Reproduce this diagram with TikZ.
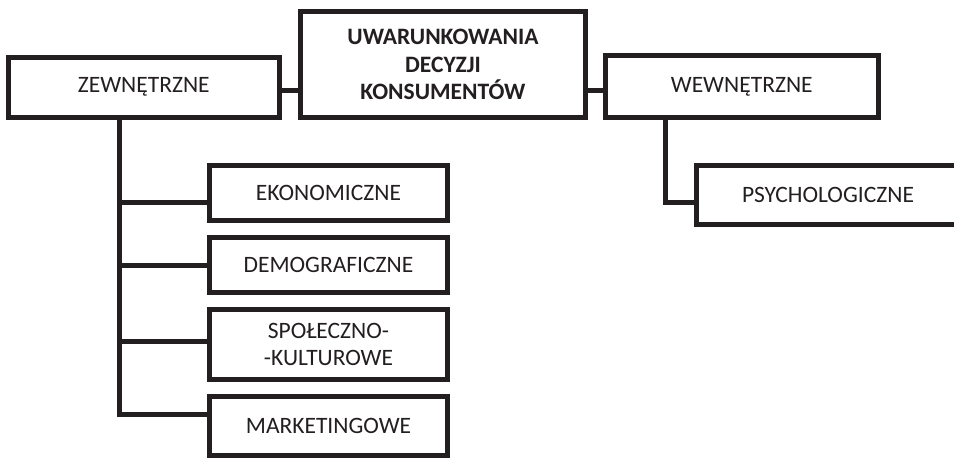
\documentclass[tikz,border=0pt]{standalone}
\usepackage{fontspec}
\setmainfont{Carlito}
\usetikzlibrary{calc}
\definecolor{ink}{HTML}{231F20}
\begin{document}
\begin{tikzpicture}[x=1pt,y=-1pt,
  box/.style={draw=ink,line width=5pt,fill=white,text=ink,inner sep=0pt,
    align=center,font=\fontsize{23.5}{27.5}\selectfont},
  topbox/.style={box,font=\fontsize{23.5}{27.5}\selectfont\bfseries},
  link/.style={draw=ink,line width=5pt,line join=miter}]
\useasboundingbox (0,0) rectangle (954,459);
\clip (0,0) rectangle (954,459);

% main node and the two groups
\node[topbox,minimum width=285pt,minimum height=106pt] (main) at (443,64.5)
  {UWARUNKOWANIA\\DECYZJI\\KONSUMENTÓW};
\node[box,minimum width=271.5pt,minimum height=60pt] (zew) at (143.75,87) {ZEWNĘTRZNE};
\node[box,minimum width=272.5pt,minimum height=62pt] (wew) at (741.75,86.5) {WEWNĘTRZNE};

% internal factors
\node[box,minimum width=264pt,minimum height=59pt] (psy) at (828,195) {PSYCHOLOGICZNE};

% external factors
\node[box,minimum width=238pt,minimum height=55pt] (eko) at (328.5,193) {EKONOMICZNE};
\node[box,minimum width=238pt,minimum height=55pt] (dem) at (328.5,265) {DEMOGRAFICZNE};
\node[box,minimum width=238pt,minimum height=70.5pt] (spo) at (328.5,344.25) {SPOŁECZNO-\\-KULTUROWE};
\node[box,minimum width=238pt,minimum height=59pt] (mar) at (328.5,426) {MARKETINGOWE};

% links to the main node
\coordinate (zl) at ($(zew.east)+(0,3.5)$);
\coordinate (wl) at ($(wew.west)+(0,4)$);
\draw[link] (zl) -- (main.west |- zl);
\draw[link] (main.east |- wl) -- (wl);

% trunk of the external branch
\coordinate (zt) at ($(zew.south)+(-24.25,0)$);
\coordinate (b1) at ($(eko.west)+(0,9.5)$);
\coordinate (b2) at (dem.west);
\coordinate (b3) at ($(spo.west)+(0,-2.75)$);
\coordinate (b4) at ($(mar.west)+(0,-12)$);
\draw[link] (zt) |- (b4);
\draw[link] (zt |- b1) -- (b1);
\draw[link] (zt |- b2) -- (b2);
\draw[link] (zt |- b3) -- (b3);

% internal branch
\coordinate (wt) at ($(wew.south)+(-76.25,0)$);
\coordinate (p1) at ($(psy.west)+(0,7.5)$);
\draw[link] (wt) |- (p1);
\end{tikzpicture}
\end{document}
